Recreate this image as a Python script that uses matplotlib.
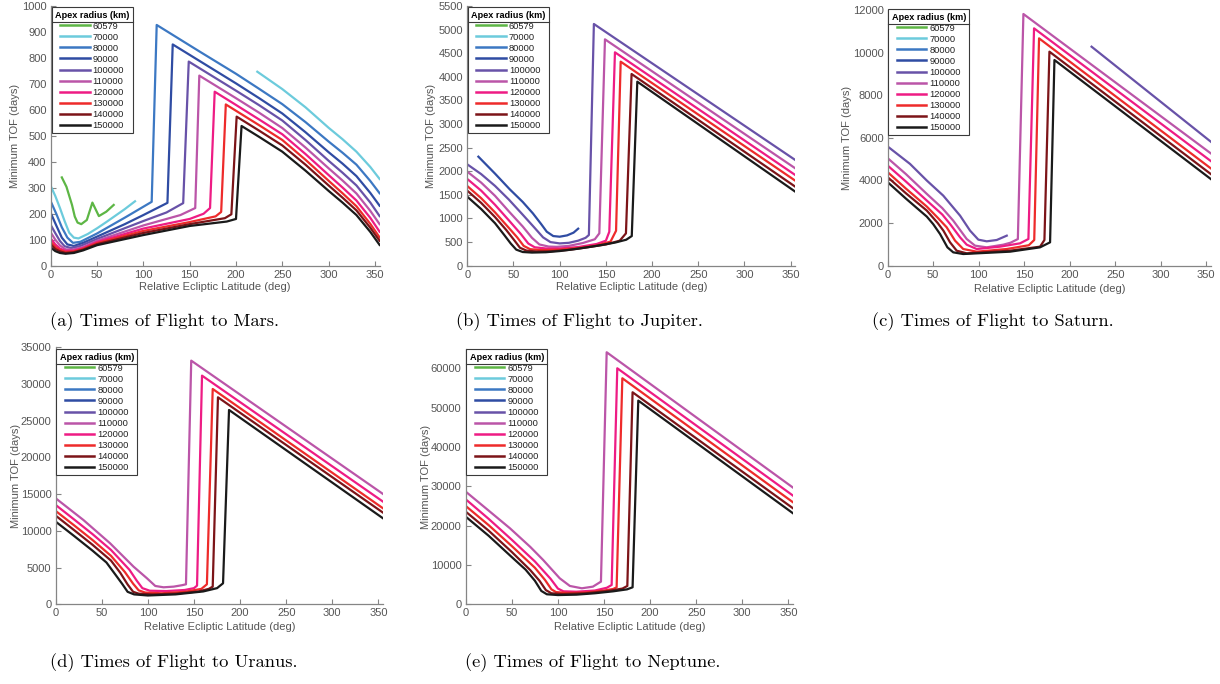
import numpy as np
import matplotlib
matplotlib.use("Agg")
import matplotlib.pyplot as plt
from matplotlib.lines import Line2D

nan = np.nan

# apex radii (km) and the colour used for each one
radii = [60579, 70000, 80000, 90000, 100000, 110000, 120000, 130000, 140000, 150000]
colors = ["#5DB645", "#6CCBDC", "#3C78C3", "#2F4CA3", "#6852A8",
          "#BB55A8", "#EE1C84", "#EE2B2B", "#7C1418", "#1A1A1A"]

# ---- (a) Mars: relative ecliptic latitude (deg) -> minimum TOF (days)
mars_x = {
    60579: [12, 17, 23, 26, 29, 33, 39, 45, 52, 60, 68],
    70000: [0, 5, 10, 15, 20, 25, 30, 40, 50, 60, 70, 80, 91, 150,
            223, 250, 275, 300, 315, 330, 345, 355],
    80000: [0, 6, 12, 18, 24, 32, 50, 80, 109, 114.4, 161, 200, 225, 250, 275, 300, 315, 330, 345, 355],
    90000: [0, 6, 12, 18, 25, 35, 50, 80, 100, 126, 131.7, 200, 225, 250, 275, 300, 315, 330, 345, 355],
    100000: [0, 5, 10, 15, 22, 32, 50, 100, 125, 143, 149, 200, 225, 250, 275, 300, 315, 330, 345, 355],
    110000: [0, 5, 10, 16, 24, 35, 50, 100, 140, 156, 160.4, 200, 225, 250, 275, 300, 315, 330, 345, 355],
    120000: [0, 5, 10, 16, 25, 35, 50, 100, 150, 165, 172, 177, 200, 225, 250, 275, 300, 315, 330, 345, 355],
    130000: [0, 5, 10, 16, 25, 35, 50, 100, 150, 178, 184, 189, 225, 250, 275, 300, 315, 330, 345, 355],
    140000: [0, 5, 10, 16, 25, 35, 50, 100, 150, 188, 195, 200.7, 225, 250, 275, 300, 315, 330, 345, 355],
    150000: [0, 5, 10, 16, 25, 35, 50, 100, 150, 190, 200, 206, 225, 250, 275, 300, 315, 330, 345, 355],
}
mars_y = {
    60579: [340, 304, 234, 189, 166, 160, 176, 243, 191, 208, 234],
    70000: [307, 268, 222, 172, 127, 108, 105, 122, 144, 168, 193, 218, 248, nan,
            747, 680, 610, 531, 487, 439, 380, 334],
    80000: [248, 200, 148, 108, 88, 92, 124, 185, 246, 927, 824, 739, 681, 622, 553, 478, 435, 389, 326, 279],
    90000: [203, 155, 108, 82, 76, 88, 112, 160, 195, 242, 852, 702, 645, 586, 514, 437, 393, 345, 280, 231],
    100000: [157, 125, 95, 75, 68, 76, 103, 172, 205, 241, 786, 674, 618, 559, 484, 404, 358, 309, 243, 191],
    110000: [128, 100, 78, 63, 62, 72, 96, 155, 195, 222, 732, 645, 589, 530, 455, 375, 328, 278, 211, 160],
    120000: [105, 82, 66, 57, 58, 68, 91, 143, 180, 200, 222, 670, 619, 563, 506, 430, 349, 301, 251, 184, 131],
    130000: [92, 72, 60, 53, 55, 65, 87, 134, 168, 190, 207, 621, 541, 484, 408, 327, 279, 229, 161, 109],
    140000: [82, 64, 55, 49, 52, 62, 83, 126, 160, 183, 198, 574, 520, 463, 389, 309, 262, 213, 146, 96],
    150000: [70, 56, 49, 46, 49, 59, 79, 118, 153, 170, 180, 538, 496, 439, 366, 288, 243, 195, 130, 80],
}

# ---- (b) Jupiter
jup_x = {
    90000: [12, 30, 46, 60, 71, 80, 86, 93, 100, 108, 115, 120],
    100000: [0, 15, 30, 45, 60, 72, 82, 90, 100, 110, 120, 128, 131.6, 137, 355],
    110000: [0, 15, 30, 45, 60, 70, 78, 88, 97, 110, 125, 138, 142.9, 149, 355],
    120000: [0, 15, 30, 45, 58, 66, 73, 85, 100, 120, 140, 150, 153.7, 159.8, 355],
    130000: [0, 15, 30, 45, 54, 61, 68, 80, 100, 120, 140, 155, 161, 166, 355],
    140000: [0, 15, 30, 42, 50, 57, 64, 75, 90, 110, 130, 150, 165, 171.7, 177.8, 355],
    150000: [0, 15, 30, 40, 47, 53, 60, 70, 85, 100, 120, 140, 160, 172, 178, 184, 355],
}
jup_y = {
    90000: [2309, 1950, 1617, 1350, 1108, 880, 720, 628, 614, 642, 700, 784],
    100000: [2146, 1940, 1690, 1400, 1080, 820, 600, 500, 472, 485, 530, 590, 650, 5119, 2238],
    110000: [1991, 1760, 1480, 1150, 830, 590, 450, 405, 400, 420, 480, 560, 685, 4794, 2062],
    120000: [1836, 1590, 1290, 960, 670, 470, 390, 365, 365, 395, 460, 530, 720, 4519, 1920],
    130000: [1687, 1430, 1130, 800, 600, 420, 350, 330, 340, 375, 430, 510, 740, 4321, 1800],
    140000: [1589, 1330, 1030, 760, 560, 380, 320, 300, 305, 335, 390, 450, 530, 685, 4060, 1673],
    150000: [1461, 1200, 900, 650, 470, 340, 290, 278, 285, 310, 360, 420, 490, 550, 628, 3897, 1567],
}

# ---- (c) Saturn
sat_x = {
    100000: [0, 24.5, 43, 61, 79.5, 90.5, 99.6, 108.8, 119.8, 130.8, 180, 224, 355],
    110000: [0, 20, 43, 60, 72, 80, 86.8, 96, 108.8, 127, 135, 143, 149.1, 355],
    120000: [0, 20, 43, 60, 68.5, 79.5, 86.8, 97.8, 123.4, 145.4, 154.6, 160.8, 355],
    130000: [0, 20, 43, 55, 64.8, 74, 83, 97.8, 130.8, 155, 161, 166.3, 355],
    140000: [0, 20, 43, 55, 61.2, 68.5, 75.8, 86.8, 134.4, 167.4, 172.2, 177.7, 355],
    150000: [0, 20, 43, 50, 57.5, 65.6, 72, 83, 134.4, 167.4, 178.4, 183.2, 355],
}
sat_y = {
    100000: [5593, 4778, 3995, 3290, 2350, 1645, 1222, 1144, 1206, 1410, nan, 10278, 5820],
    110000: [5045, 4300, 3368, 2700, 2115, 1650, 1253, 940, 862, 987, 1080, 1250, 11812, 5272],
    120000: [4700, 3950, 3055, 2400, 1958, 1332, 987, 783, 893, 1050, 1253, 11139, 4912],
    130000: [4387, 3620, 2773, 2250, 1802, 1175, 783, 658, 783, 960, 1206, 10670, 4568],
    140000: [4152, 3400, 2585, 2000, 1645, 1097, 705, 580, 705, 893, 1206, 10044, 4302],
    150000: [3917, 3150, 2303, 1950, 1488, 862, 627, 548, 658, 862, 1097, 9653, 4068],
}

# ---- (d) Uranus
ura_x = {
    110000: [0, 30, 59, 84.4, 99, 108, 117, 128, 137, 141.3, 147, 355],
    120000: [0, 20, 40, 60, 80, 88, 94, 102, 120, 140, 150, 153.3, 158.7, 355],
    130000: [0, 20, 40, 60, 75, 84, 90, 97, 115, 140, 158, 164, 170.3, 355],
    140000: [0, 20, 40, 60, 70, 78, 84, 90, 105, 130, 155, 166, 170.3, 176, 355],
    150000: [0, 20, 40, 55, 65, 72, 78, 85, 100, 130, 160, 175, 181.5, 188, 355],
}
ura_y = {
    110000: [14436, 11485, 8307, 5130, 3541, 2497, 2315, 2406, 2600, 2724, 33183, 15026],
    120000: [13528, 11550, 9550, 7400, 4700, 3200, 2200, 1850, 1800, 1950, 2200, 2542, 31141, 13982],
    130000: [12711, 10750, 8750, 6600, 4400, 2800, 1900, 1600, 1500, 1700, 2100, 2724, 29325, 13074],
    140000: [12075, 10100, 8100, 5950, 4300, 2700, 1700, 1450, 1350, 1450, 1750, 2100, 2406, 28190, 12484],
    150000: [11258, 9300, 7300, 5700, 4000, 2800, 1700, 1350, 1200, 1350, 1750, 2200, 2860, 26465, 11712],
}

# ---- (e) Neptune
nep_x = {
    110000: [0, 25, 48, 70, 84, 102, 113, 126, 138, 146.7, 152.9, 355],
    120000: [0, 25, 50, 75, 92, 100, 106, 120, 140, 153, 158.3, 164.4, 355],
    130000: [0, 25, 50, 75, 86, 93, 98, 110, 130, 150, 160, 163.7, 169.9, 355],
    140000: [0, 25, 50, 70, 80, 87, 93, 105, 130, 155, 170, 175.3, 181, 355],
    150000: [0, 25, 50, 65, 75, 82, 88, 100, 120, 140, 160, 175, 181, 187.2, 355],
}
nep_y = {
    110000: [28644, 23800, 19322, 14600, 11271, 6610, 4661, 4068, 4492, 5763, 64068, 29661],
    120000: [26695, 21700, 16400, 10900, 6500, 4000, 3300, 3200, 3500, 4200, 4915, 60000, 27627],
    130000: [25000, 20100, 14800, 9300, 6200, 3800, 3100, 2900, 3000, 3500, 3900, 4322, 57458, 25932],
    140000: [23559, 18700, 13300, 8700, 6000, 3600, 2800, 2600, 2800, 3400, 4000, 4661, 53898, 24407],
    150000: [22288, 17400, 12000, 8800, 6000, 3400, 2550, 2350, 2450, 2800, 3300, 3800, 4322, 51780, 23136],
}

W, H = 1220, 684
fig = plt.figure(figsize=(W / 100, H / 100), dpi=100)
plt.rcParams["font.family"] = ["Liberation Sans", "DejaVu Sans"]

txt_col = "#555555"
ax_col = "#858585"

# panel layout in pixels: left, right, top, bottom of the axes box
panels = [
    (mars_x, mars_y, (50.7, 379.6, 6, 265.7), 1000, 100, (51.7, 7.3), 20.5, 282,
     "(a) Times of Flight to Mars.", (50, 326.5)),
    (jup_x, jup_y, (467.3, 795.3, 6, 265.7), 5500, 500, (468, 7.3), 436, 282,
     "(b) Times of Flight to Jupiter.", (456, 326.5)),
    (sat_x, sat_y, (887.7, 1210.8, 10, 265.7), 12000, 2000, (888.3, 9.3), 852.5, 283.5,
     "(c) Times of Flight to Saturn.", (872, 326.5)),
    (ura_x, ura_y, (55.7, 383, 347.3, 604.3), 35000, 5000, (56.3, 349.3), 20.7, 622,
     "(d) Times of Flight to Uranus.", (50, 667.5)),
    (nep_x, nep_y, (465.7, 793, 348.6, 604.3), 65000, 10000, (466.3, 349.3), 430.7, 622,
     "(e) Times of Flight to Neptune.", (465, 667.5)),
]

legends = []
for xs, ys, (l, r, t, b), ytop, ystep, leg_px, ylab_px, xlab_px, cap, cap_px in panels:
    ax = fig.add_axes([l / W, 1 - b / H, (r - l) / W, (b - t) / H])
    for rad, col in zip(radii, colors):
        if rad in xs:
            ax.plot(xs[rad], ys[rad], color=col, lw=1.6)
    ax.set_xlim(0, 355)
    ax.set_ylim(0, ytop)
    ax.set_xticks(np.arange(0, 351, 50))
    ax.set_yticks(np.arange(0, ytop + 1, ystep))
    for s in ["top", "right"]:
        ax.spines[s].set_visible(False)
    for s in ["left", "bottom"]:
        ax.spines[s].set_color(ax_col)
        ax.spines[s].set_linewidth(0.9)
    ax.tick_params(direction="in", length=3.5, width=0.8, color=ax_col,
                   labelcolor=txt_col, labelsize=8, pad=3)
    ax.set_xlabel("Relative Ecliptic Latitude (deg)", fontsize=8, color=txt_col)
    ax.set_ylabel("Minimum TOF (days)", fontsize=8, color=txt_col)
    ax.xaxis.set_label_coords(0.5, (b - xlab_px) / (b - t))
    ax.yaxis.set_label_coords((ylab_px - l) / (r - l), 0.5)

    handles = [Line2D([], [], color=c, lw=1.8) for c in colors]
    leg = ax.legend(handles, [str(v) for v in radii], loc="upper left",
                    bbox_to_anchor=((leg_px[0] - l) / (r - l), (b - leg_px[1]) / (b - t)),
                    borderaxespad=0, fontsize=6.7, title="Apex radius (km)",
                    title_fontproperties={"weight": "bold", "size": 6.6},
                    handlelength=3.2, handletextpad=0.3, labelspacing=0.22,
                    borderpad=0.35, fancybox=False, framealpha=1)
    leg.get_frame().set_edgecolor("#3a3a3a")
    leg.get_frame().set_linewidth(0.8)
    for tx in leg.get_texts():
        tx.set_color("#222222")
    legends.append(leg)

    fig.text(cap_px[0] / W, 1 - cap_px[1] / H, cap, fontfamily="cmr10",
             fontsize=13.3, ha="left", va="baseline")

# separator line under each legend title (as MATLAB draws it)
fig.canvas.draw()
rend = fig.canvas.get_renderer()
inv = fig.transFigure.inverted()
for leg in legends:
    fb = leg.get_frame().get_window_extent(rend)
    tb = leg.get_title().get_window_extent(rend)
    yy = tb.y0 - 2
    p0 = inv.transform((fb.x0, yy))
    p1 = inv.transform((fb.x1, yy))
    fig.add_artist(Line2D([p0[0], p1[0]], [p0[1], p1[1]], transform=fig.transFigure,
                          color="#3a3a3a", lw=0.8))

fig.savefig("out.png", dpi=100)
